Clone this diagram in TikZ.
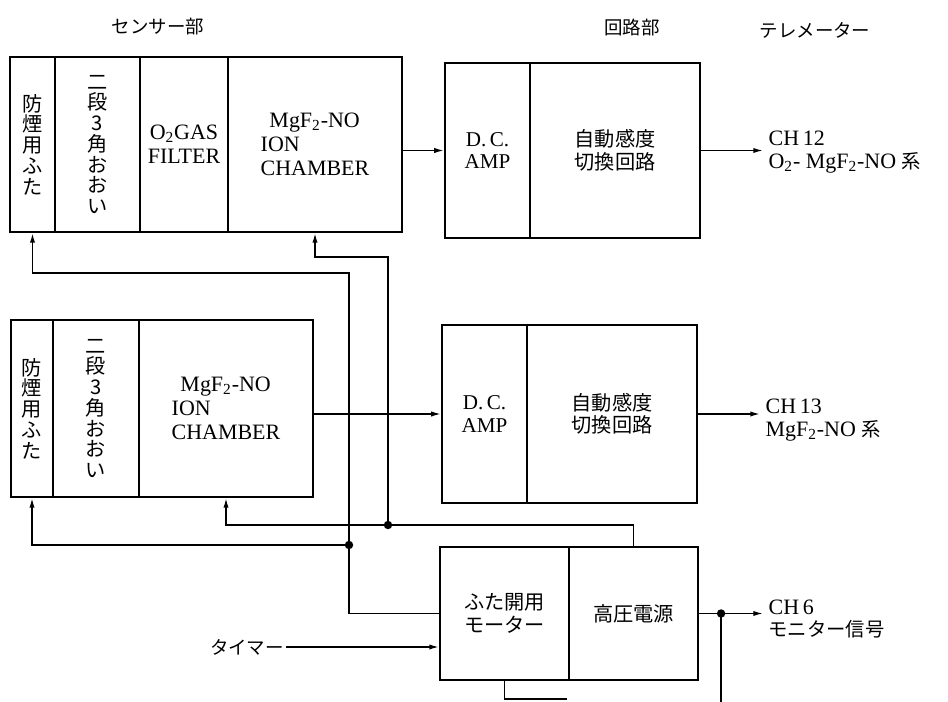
\documentclass[tikz,border=0pt]{standalone}
\usepackage{fontspec}
\setmainfont{Liberation Serif}
\newfontfamily\jp{Noto Sans CJK JP}
\usetikzlibrary{arrows.meta}
\tikzset{
  cell/.style={draw, line width=1.25pt, inner sep=0pt, align=center},
  conn/.style={line width=0.85pt},
  arr/.style={conn, -{Latex[length=5.5pt,width=3pt]}},
  jpv/.style={font=\jp\fontsize{11.5}{11.8}\selectfont},
  jpt/.style={font=\jp\fontsize{11.5}{12.8}\selectfont},
  lat/.style={font=\fontsize{12.5}{13.6}\selectfont},
  latdc/.style={font=\fontsize{12}{12.6}\selectfont},
  lab/.style={anchor=west, align=left, inner sep=3pt, font=\fontsize{12.5}{13}\selectfont},
  head/.style={font=\jp\fontsize{10.5}{12}\selectfont},
  dotc/.style={radius=2.4pt},
}
\newcommand{\jpsmall}[1]{{\jp\fontsize{11}{13}\selectfont #1}}
\begin{document}
\begin{tikzpicture}[x=0.02cm, y=-0.02cm]
\useasboundingbox (0,0) rectangle (948,702);

% headers
\node[head] (hs) at (158,27) {センサー部};
\node[head] (hc) at (632,27) {回路部};
\node[head] (ht) at (815,30) {テレメーター};

% top sensor
\node[cell, jpv, minimum width=0.9cm, minimum height=3.5cm] (s1a) at (32.5,144.5) {防\\煙\\用\\ふ\\た};
\node[cell, jpv, minimum width=1.7cm, minimum height=3.5cm] (s1b) at (97.5,144.5) {二\\段\\3\\角\\お\\お\\い};
\node[cell, lat, minimum width=1.76cm, minimum height=3.5cm] (s1c) at (184,144.5) {O\textsubscript{2}GAS\\FILTER};
\node[cell, lat, align=left, minimum width=3.48cm, minimum height=3.5cm] (s1d) at (315,144.5) {\hspace*{5pt}MgF\textsubscript{2}-NO\\ION\\CHAMBER};

% top circuit
\node[cell, latdc, minimum width=1.7cm, minimum height=3.5cm] (c1a) at (487.5,150.5) {D.\,C.\\AMP};
\node[cell, jpt, minimum width=3.4cm, minimum height=3.5cm] (c1b) at (615,150.5) {自動感度\\切換回路};

% lower sensor
\node[cell, jpv, minimum width=0.84cm, minimum height=3.54cm] (s2a) at (32,408.5) {防\\煙\\用\\ふ\\た};
\node[cell, jpv, minimum width=1.72cm, minimum height=3.54cm] (s2b) at (96,408.5) {二\\段\\3\\角\\お\\お\\い};
\node[cell, lat, align=left, minimum width=3.48cm, minimum height=3.54cm] (s2d) at (226,408.5) {\hspace*{5pt}MgF\textsubscript{2}-NO\\ION\\CHAMBER};

% lower circuit
\node[cell, latdc, minimum width=1.7cm, minimum height=3.56cm] (c2a) at (484.5,414) {D.\,C.\\AMP};
\node[cell, jpt, minimum width=3.4cm, minimum height=3.56cm] (c2b) at (612,414) {自動感度\\切換回路};

% motor / HV box
\node[cell, jpt, minimum width=2.58cm, minimum height=2.66cm] (m1) at (504.5,613.5) {ふた開用\\モーター};
\node[cell, jpt, minimum width=2.58cm, minimum height=2.66cm] (m2) at (633.5,613.5) {高圧電源};

% telemeter labels
\node[lab] (ch12) at (763,152) {CH\,12\\O\textsubscript{2}-\ MgF\textsubscript{2}-NO \jpsmall{系}};
\node[lab] (ch13) at (760,420) {CH\,13\\MgF\textsubscript{2}-NO \jpsmall{系}};
\node[lab] (ch6) at (763,619) {CH\,6\\\jpsmall{モニター信号}};
\node[head, anchor=east, inner sep=1pt] (timer) at (286,647) {タイマー};

% signal arrows
\draw[arr] (c1a.west -| s1d.east) -- (c1a.west);
\draw[arr] (c1b.east) -- (c1b.east -| ch12.west);
\draw[arr] (c2a.west -| s2d.east) -- (c2a.west);
\draw[arr] (c2b.east) -- (c2b.east -| ch13.west);
\draw[arr] (timer.east) -- (timer.east -| m1.west);

% junctions
\coordinate (j1) at (349,545);
\coordinate (j2) at (388,525);
\path (m2.east) ++(22,0) coordinate (jd);

% motor lines
\draw[arr] (m1.west) -| (j1) -- (j1 |- 0,273) -| (s1a.south);
\draw[arr] (j1) -| (s2a.south);

% high voltage lines
\draw[arr] (m2.north) |- (j2) -| (s2d.south);
\draw[arr] (j2) -- (j2 |- 0,257) -| (s1d.south);
\draw[arr] (m2.east) -- (m2.east -| ch6.west);
\draw[conn] (jd) -- (jd |- 0,702);
\draw[conn] (m1.south) -- ++(0,18) -- ++(62,0);

\fill (j1) circle[dotc];
\fill (j2) circle[dotc];
\fill (jd) circle[dotc];
\end{tikzpicture}
\end{document}
